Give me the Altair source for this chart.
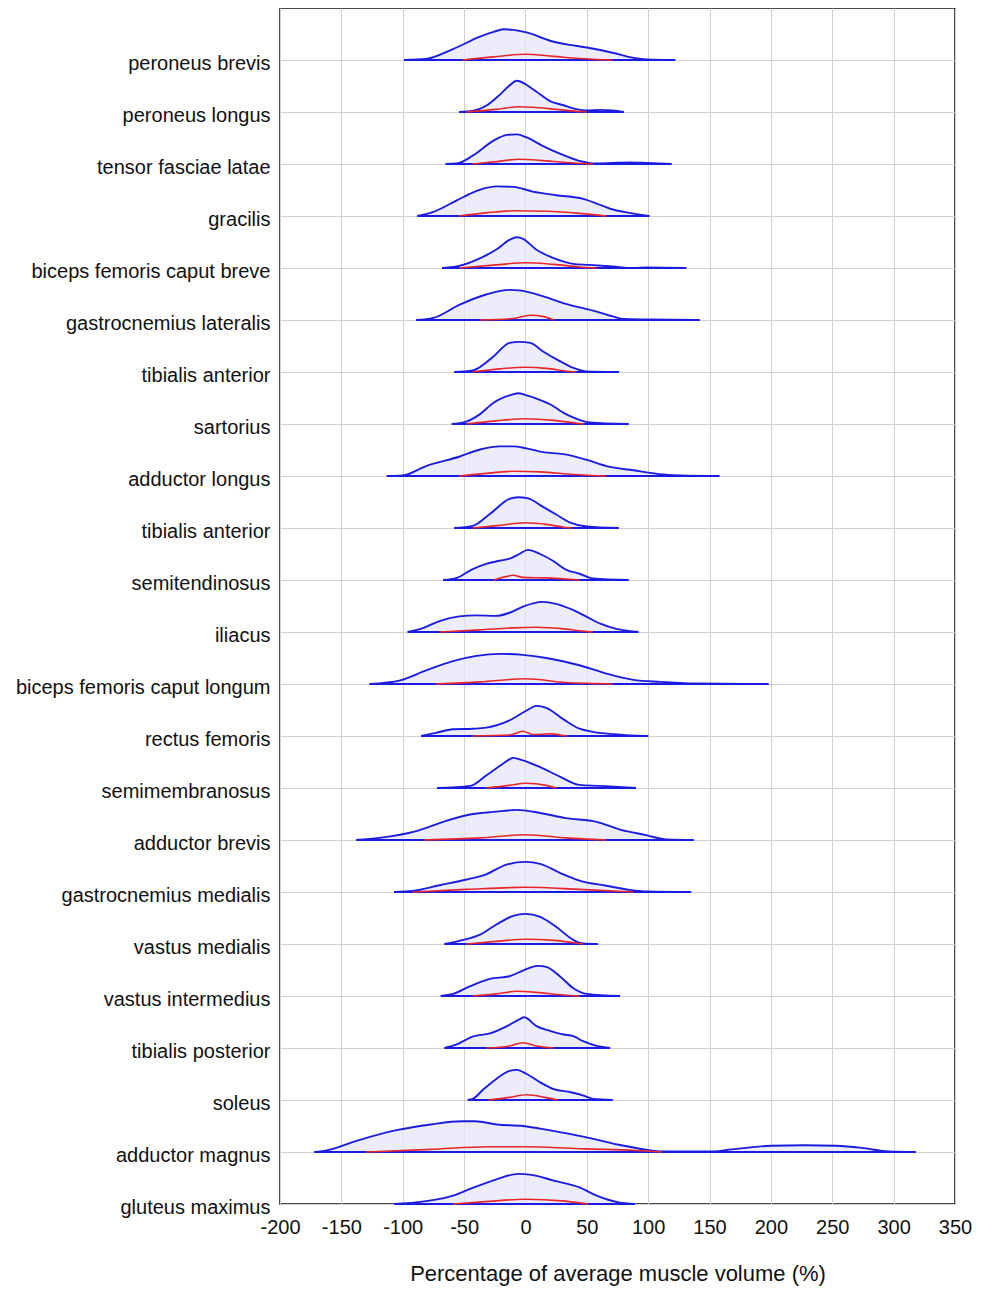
import altair as alt
import pandas as pd

# ---- data: (value %, density height in row units) ----
peroneus_brevis_blue = [(-99, 0), (-81, 0.02), (-59, 0.21), (-37, 0.45), (-26, 0.54), (-18, 0.59), (-10, 0.58), (1, 0.53), (20, 0.37), (36, 0.29), (50, 0.24), (71, 0.14), (88, 0.04), (99, 0.01), (122, 0)]
peroneus_brevis_red = [(-51, 0), (-26, 0.06), (0, 0.11), (23, 0.07), (44, 0.03), (71, 0)]

peroneus_longus_blue = [(-54, 0), (-43, 0.02), (-32, 0.12), (-21, 0.33), (-13, 0.51), (-7, 0.60), (1, 0.52), (9, 0.39), (20, 0.21), (31, 0.13), (39, 0.07), (50, 0.03), (61, 0.04), (71, 0.03), (80, 0)]
peroneus_longus_red = [(-48, 0), (-24, 0.05), (-5, 0.10), (6, 0.09), (25, 0.05), (44, 0.01), (50, 0)]

tensor_fasciae_latae_blue = [(-65, 0), (-56, 0.01), (-43, 0.16), (-26, 0.45), (-15, 0.56), (-7, 0.57), (1, 0.51), (14, 0.35), (31, 0.17), (44, 0.06), (58, 0.01), (71, 0.02), (85, 0.03), (99, 0.02), (119, 0)]
tensor_fasciae_latae_red = [(-43, 0), (-26, 0.04), (-5, 0.09), (12, 0.07), (33, 0.03), (55, 0)]

gracilis_blue = [(-88, 0), (-75, 0.08), (-56, 0.30), (-43, 0.45), (-32, 0.54), (-24, 0.57), (-10, 0.56), (6, 0.47), (25, 0.40), (47, 0.33), (58, 0.24), (69, 0.14), (85, 0.06), (101, 0)]
gracilis_red = [(-54, 0), (-32, 0.06), (-10, 0.10), (17, 0.09), (44, 0.05), (66, 0)]

biceps_breve_blue = [(-68, 0), (-56, 0.03), (-35, 0.21), (-24, 0.35), (-13, 0.54), (-7, 0.59), (-2, 0.56), (9, 0.35), (23, 0.19), (39, 0.08), (52, 0.06), (71, 0.03), (88, 0.0), (99, 0.01), (131, 0)]
biceps_breve_red = [(-54, 0), (-24, 0.06), (0, 0.10), (23, 0.07), (44, 0.02), (58, 0)]

gastrocnemius_lateralis_blue = [(-89, 0), (-75, 0.04), (-54, 0.29), (-32, 0.49), (-13, 0.58), (-5, 0.57), (14, 0.46), (33, 0.31), (55, 0.18), (71, 0.07), (80, 0.02), (99, 0.01), (142, 0)]
gastrocnemius_lateralis_red = [(-37, 0), (-10, 0.03), (4, 0.09), (14, 0.07), (23, 0)]

tibialis_anterior_a_blue = [(-58, 0), (-43, 0.03), (-26, 0.30), (-13, 0.56), (-5, 0.58), (4, 0.56), (14, 0.40), (28, 0.21), (39, 0.08), (50, 0.01), (76, 0)]
tibialis_anterior_a_red = [(-43, 0), (-21, 0.06), (0, 0.09), (17, 0.07), (36, 0.01), (41, 0)]

sartorius_blue = [(-60, 0), (-49, 0.04), (-37, 0.19), (-26, 0.41), (-13, 0.55), (-6, 0.59), (1, 0.55), (9, 0.49), (20, 0.38), (33, 0.19), (44, 0.08), (52, 0.03), (84, 0)]
sartorius_red = [(-48, 0), (-24, 0.06), (0, 0.10), (23, 0.07), (44, 0.01), (48, 0)]

adductor_longus_blue = [(-113, 0), (-100, 0.01), (-81, 0.19), (-54, 0.37), (-37, 0.51), (-21, 0.57), (-10, 0.57), (1, 0.53), (14, 0.46), (31, 0.42), (50, 0.31), (66, 0.19), (88, 0.11), (112, 0.03), (126, 0.01), (158, 0)]
adductor_longus_red = [(-54, 0), (-32, 0.05), (-10, 0.09), (12, 0.08), (39, 0.03), (66, 0)]

tibialis_anterior_b_blue = [(-58, 0), (-43, 0.04), (-29, 0.27), (-13, 0.56), (-6, 0.59), (2, 0.57), (14, 0.41), (25, 0.26), (36, 0.11), (50, 0.03), (76, 0)]
tibialis_anterior_b_red = [(-43, 0), (-21, 0.05), (0, 0.10), (17, 0.07), (33, 0.01), (38, 0)]

semitendinosus_blue = [(-67, 0), (-56, 0.04), (-43, 0.21), (-32, 0.31), (-21, 0.37), (-13, 0.41), (-5, 0.50), (2, 0.58), (12, 0.50), (23, 0.36), (33, 0.20), (44, 0.12), (55, 0.03), (84, 0)]
semitendinosus_red = [(-26, 0), (-15, 0.07), (-10, 0.09), (-2, 0.05), (17, 0.04), (39, 0.01), (44, 0)]

iliacus_blue = [(-96, 0), (-83, 0.08), (-70, 0.21), (-54, 0.30), (-40, 0.32), (-24, 0.31), (-13, 0.37), (-2, 0.49), (14, 0.58), (25, 0.54), (39, 0.42), (50, 0.29), (61, 0.16), (71, 0.08), (92, 0)]
iliacus_red = [(-70, 0), (-37, 0.04), (-10, 0.08), (9, 0.09), (31, 0.06), (50, 0.01), (55, 0)]

biceps_longum_blue = [(-127, 0), (-102, 0.07), (-81, 0.26), (-59, 0.44), (-40, 0.54), (-21, 0.58), (-2, 0.56), (17, 0.50), (44, 0.36), (66, 0.20), (88, 0.08), (110, 0.04), (139, 0.01), (198, 0)]
biceps_longum_red = [(-73, 0), (-37, 0.04), (0, 0.10), (33, 0.03), (58, 0.01), (71, 0)]

rectus_femoris_blue = [(-85, 0), (-73, 0.06), (-59, 0.13), (-43, 0.14), (-32, 0.16), (-13, 0.30), (1, 0.49), (9, 0.58), (17, 0.54), (31, 0.32), (44, 0.14), (55, 0.08), (69, 0.04), (100, 0)]
rectus_femoris_red = [(-43, 0), (-13, 0.02), (-2, 0.09), (6, 0.03), (20, 0.04), (31, 0.01), (34, 0)]

semimembranosus_blue = [(-72, 0), (-45, 0.04), (-32, 0.24), (-18, 0.47), (-10, 0.58), (-2, 0.53), (12, 0.40), (28, 0.22), (44, 0.06), (61, 0.04), (90, 0)]
semimembranosus_red = [(-32, 0), (-13, 0.05), (0, 0.09), (17, 0.05), (25, 0)]

adductor_brevis_blue = [(-138, 0), (-119, 0.04), (-89, 0.17), (-67, 0.35), (-43, 0.50), (-26, 0.54), (-7, 0.58), (12, 0.52), (33, 0.42), (58, 0.35), (77, 0.20), (99, 0.09), (115, 0.01), (137, 0)]
adductor_brevis_red = [(-83, 0), (-37, 0.04), (0, 0.10), (33, 0.04), (66, 0)]

gastrocnemius_medialis_blue = [(-107, 0), (-92, 0.02), (-70, 0.13), (-48, 0.24), (-32, 0.34), (-15, 0.53), (0, 0.58), (12, 0.54), (28, 0.37), (44, 0.22), (66, 0.12), (85, 0.04), (99, 0.01), (135, 0)]
gastrocnemius_medialis_red = [(-92, 0), (-48, 0.05), (0, 0.09), (44, 0.05), (88, 0)]

vastus_medialis_blue = [(-66, 0), (-54, 0.06), (-37, 0.18), (-24, 0.37), (-10, 0.54), (0, 0.58), (12, 0.52), (25, 0.33), (39, 0.08), (47, 0.01), (59, 0)]
vastus_medialis_red = [(-48, 0), (-24, 0.05), (0, 0.09), (23, 0.07), (44, 0.01), (47, 0)]

vastus_intermedius_blue = [(-69, 0), (-59, 0.04), (-45, 0.19), (-29, 0.33), (-13, 0.38), (-2, 0.49), (10, 0.58), (17, 0.56), (28, 0.38), (39, 0.15), (50, 0.04), (77, 0)]
vastus_intermedius_red = [(-43, 0), (-24, 0.04), (-7, 0.09), (9, 0.07), (31, 0.02), (44, 0)]

tibialis_posterior_blue = [(-66, 0), (-56, 0.07), (-43, 0.22), (-29, 0.28), (-15, 0.42), (-5, 0.55), (-1, 0.59), (9, 0.42), (20, 0.33), (31, 0.26), (39, 0.23), (47, 0.13), (58, 0.04), (69, 0)]
tibialis_posterior_red = [(-32, 0), (-13, 0.04), (-2, 0.10), (9, 0.04), (23, 0)]

soleus_blue = [(-47, 0), (-43, 0.02), (-34, 0.21), (-23, 0.42), (-13, 0.56), (-7, 0.58), (1, 0.50), (12, 0.34), (23, 0.21), (37, 0.15), (48, 0.08), (55, 0.02), (71, 0)]
soleus_red = [(-30, 0), (-13, 0.05), (1, 0.10), (16, 0.05), (26, 0)]

adductor_magnus_blue = [(-172, 0), (-162, 0.03), (-137, 0.22), (-105, 0.42), (-77, 0.53), (-52, 0.59), (-41, 0.59), (-23, 0.53), (-2, 0.50), (19, 0.42), (48, 0.29), (76, 0.14), (97, 0.05), (111, 0.01), (136, 0.01), (154, 0.01), (168, 0.05), (200, 0.12), (228, 0.13), (253, 0.12), (274, 0.08), (296, 0.01), (318, 0)]
adductor_magnus_red = [(-130, 0), (-77, 0.05), (-30, 0.10), (1, 0.10), (48, 0.06), (90, 0.03), (111, 0)]

gluteus_maximus_blue = [(-107, 0), (-94, 0.02), (-59, 0.16), (-45, 0.29), (-23, 0.48), (-6, 0.58), (5, 0.56), (23, 0.45), (44, 0.32), (58, 0.16), (76, 0.03), (89, 0)]
gluteus_maximus_red = [(-59, 0), (-30, 0.05), (0, 0.09), (30, 0.06), (51, 0)]

muscles = [
    "peroneus brevis", "peroneus longus", "tensor fasciae latae", "gracilis",
    "biceps femoris caput breve", "gastrocnemius lateralis", "tibialis anterior",
    "sartorius", "adductor longus", "tibialis anterior", "semitendinosus", "iliacus",
    "biceps femoris caput longum", "rectus femoris", "semimembranosus",
    "adductor brevis", "gastrocnemius medialis", "vastus medialis",
    "vastus intermedius", "tibialis posterior", "soleus", "adductor magnus",
    "gluteus maximus",
]
blue_curves = [
    peroneus_brevis_blue, peroneus_longus_blue, tensor_fasciae_latae_blue, gracilis_blue,
    biceps_breve_blue, gastrocnemius_lateralis_blue, tibialis_anterior_a_blue,
    sartorius_blue, adductor_longus_blue, tibialis_anterior_b_blue, semitendinosus_blue,
    iliacus_blue, biceps_longum_blue, rectus_femoris_blue, semimembranosus_blue,
    adductor_brevis_blue, gastrocnemius_medialis_blue, vastus_medialis_blue,
    vastus_intermedius_blue, tibialis_posterior_blue, soleus_blue,
    adductor_magnus_blue, gluteus_maximus_blue,
]
red_curves = [
    peroneus_brevis_red, peroneus_longus_red, tensor_fasciae_latae_red, gracilis_red,
    biceps_breve_red, gastrocnemius_lateralis_red, tibialis_anterior_a_red,
    sartorius_red, adductor_longus_red, tibialis_anterior_b_red, semitendinosus_red,
    iliacus_red, biceps_longum_red, rectus_femoris_red, semimembranosus_red,
    adductor_brevis_red, gastrocnemius_medialis_red, vastus_medialis_red,
    vastus_intermedius_red, tibialis_posterior_red, soleus_red,
    adductor_magnus_red, gluteus_maximus_red,
]
x_ticks = list(range(-200, 351, 50))

n = len(muscles)
blue_rows, red_rows, ext_rows = [], [], []
for i in range(n):
    base = n - 1 - i
    for v, h in blue_curves[i]:
        blue_rows.append({"row": i, "base": base, "v": v, "top": base + h})
    for v, h in red_curves[i]:
        red_rows.append({"row": i, "base": base, "v": v, "top": base + h})
    xs = [p[0] for p in blue_curves[i]]
    ext_rows.append({"row": i, "base": base, "v": min(xs), "xmax": max(xs), "top": base})

blue_df = pd.DataFrame(blue_rows)
red_df = pd.DataFrame(red_rows)
ext_df = pd.DataFrame(ext_rows)

# label lookup: tick value -> muscle name (bottom row is 0)
labels_bottom_up = list(reversed(muscles))
label_expr = "[" + ",".join('"%s"' % m for m in labels_bottom_up) + "][datum.value]"

FONT = "Liberation Sans"
xscale = alt.Scale(domain=[-200, 350], nice=False, zero=False)
yscale = alt.Scale(domain=[0, n], nice=False, zero=False)

x_axis = alt.Axis(values=x_ticks, labelExpr="'' + datum.value",
                  title="Percentage of average muscle volume (%)",
                  grid=True, gridColor="#d0d0d0", gridWidth=1, ticks=False, domain=False,
                  labelFont=FONT, labelFontSize=20, labelColor="#111111", labelPadding=13,
                  labelFlush=False, labelOverlap=False,
                  titleFont=FONT, titleFontSize=22, titleFontWeight="normal",
                  titleColor="#111111", titlePadding=26)
y_axis = alt.Axis(values=list(range(n)), labelExpr=label_expr, title=None,
                  grid=True, gridColor="#d0d0d0", gridWidth=1, ticks=False, domain=False,
                  labelFont=FONT, labelFontSize=20, labelColor="#111111", labelPadding=10,
                  labelLimit=400, labelOffset=3, labelOverlap=False)

X = alt.X("v:Q", scale=xscale, axis=x_axis, title="Percentage of average muscle volume (%)")
Y = alt.Y("top:Q", scale=yscale, axis=y_axis, title=None)

blue_col = "#1c1ce0"
red_col = "#e8262a"

area = alt.Chart(blue_df).mark_area(interpolate="monotone", color="#e6e6f8", opacity=0.75).encode(
    x=X, y=Y, y2="base:Q", detail="row:N",
)
blue_line = alt.Chart(blue_df).mark_line(interpolate="monotone", color=blue_col, strokeWidth=1.9).encode(
    x=X, y=Y, detail="row:N",
)
base_rule = alt.Chart(ext_df).mark_rule(color=blue_col, strokeWidth=2.2).encode(
    x=X, x2="xmax:Q", y=Y,
)
red_line = alt.Chart(red_df).mark_line(interpolate="monotone", color=red_col, strokeWidth=1.6).encode(
    x=X, y=Y, detail="row:N",
)

chart = alt.layer(area, blue_line, base_rule, red_line).properties(
    width=675, height=1196,
    autosize=alt.AutoSizeParams(type="none"),
    padding={"left": 272, "top": 0, "right": 24, "bottom": 85},
    background="white",
).configure_view(stroke="#111111", strokeWidth=1.5)

chart.save("out.html", embed_options={"renderer": "svg", "actions": False})
